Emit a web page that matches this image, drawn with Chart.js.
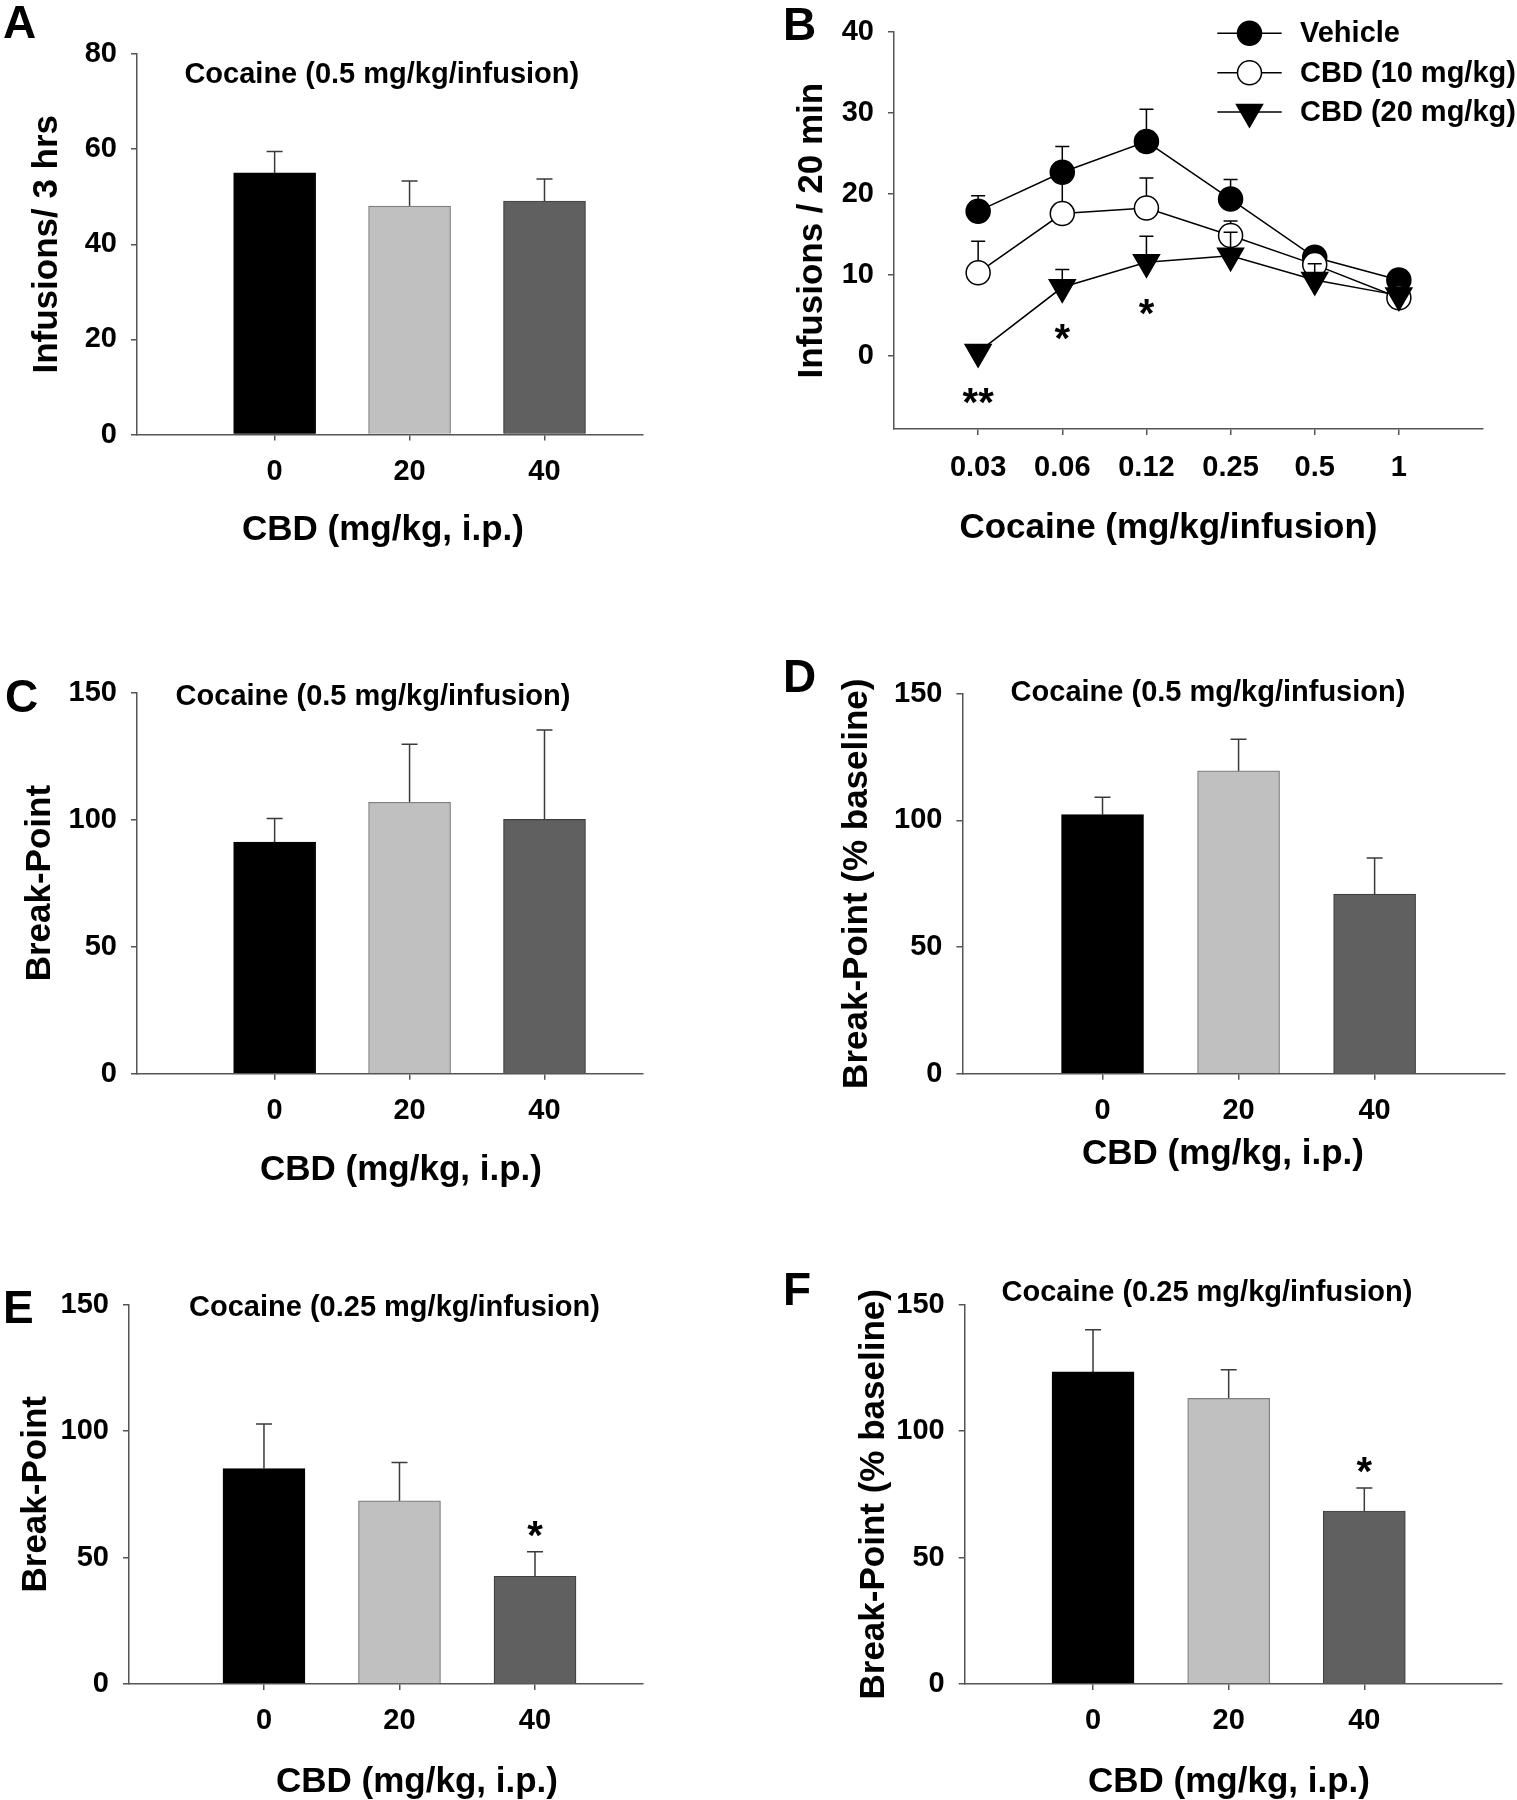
<!DOCTYPE html>
<html><head><meta charset="utf-8">
<script src="https://cdn.jsdelivr.net/npm/chart.js@4.4.1/dist/chart.umd.min.js"></script>
<style>
body{margin:0;background:#fff;}
#fig{position:relative;width:1517px;height:1800px;overflow:hidden;background:#fff;font-family:'Liberation Sans',Arial,sans-serif;font-weight:bold;color:#000;}
#fig canvas{position:absolute;}
.t{position:absolute;white-space:nowrap;line-height:1;}
</style></head><body><div id="fig"></div>
<script>
// ---------------- DATA ----------------
const cbdDoses = ['0', '20', '40'];           // CBD (mg/kg, i.p.)
const barSlots = [0, 1, 2];
const barColors = ['#000000', '#c0c0c0', '#606060'];
const barBorders = ['#000000', '#7f7f7f', '#3f3f3f'];

// Panel A: infusions / 3 hrs, cocaine 0.5 mg/kg/infusion
const aMeans = [55.0, 48.0, 49.1];
const aSem   = [4.5, 5.3, 4.6];
const aTicks = [0, 20, 40, 60, 80];

// Panel B: dose-response, infusions / 20 min
const cocaineDoses = ['0.03', '0.06', '0.12', '0.25', '0.5', '1'];
const doseSlots = [1, 2, 3, 4, 5, 6];
const vehicleMeans = [17.9, 22.7, 26.5, 19.4, 12.2, 9.4];
const vehicleSem   = [1.9, 3.2, 4.0, 2.4, 0.8, 0.8];
const cbd10Means   = [10.3, 17.6, 18.3, 14.9, 11.3, 7.2];
const cbd10Sem     = [3.9, 3.9, 3.7, 1.8, 0.9, 1.2];
const cbd20Means   = [0.5, 8.5, 11.6, 12.4, 9.4, 7.5];
const cbd20Sem     = [0, 2.2, 3.2, 2.9, 2.0, 1.0];
const cbd20Sig     = ['**', '*', '*', '', '', ''];
const bTicks = [0, 10, 20, 30, 40];

// Panel C: break-point, cocaine 0.5
const cMeans = [91.2, 106.8, 100.1];
const cSem   = [9.2, 22.8, 35.1];
// Panel D: break-point (% baseline), cocaine 0.5
const dMeans = [102.3, 119.5, 70.9];
const dSem   = [6.8, 12.5, 14.2];
// Panel E: break-point, cocaine 0.25
const eMeans = [85.2, 72.4, 42.6];
const eSem   = [17.6, 15.2, 9.7];
const eSig   = ['', '', '*'];
// Panel F: break-point (% baseline), cocaine 0.25
const fMeans = [123.4, 112.9, 68.4];
const fSem   = [16.7, 11.3, 9.1];
const fSig   = ['', '', '*'];
const bpTicks = [0, 50, 100, 150];

// ---------------- STYLE ----------------
const FONT = "'Liberation Sans', Arial, sans-serif";
const AXIS = '#555555';
Chart.defaults.font.family = FONT;
Chart.defaults.font.weight = 'bold';
Chart.defaults.color = '#000';
const fig = document.getElementById('fig');

const errorBars = {
  id: 'errorBars',
  beforeDatasetDraw(chart, args, opts) {
    const ds = chart.data.datasets[args.index];
    if (!ds.sem) return;
    const ys = chart.scales.y, ctx = chart.ctx;
    ctx.save();
    ctx.strokeStyle = opts.color || '#333';
    ctx.lineWidth = opts.width || 1.5;
    const half = (opts.cap || 16) / 2;
    args.meta.data.forEach((el, i) => {
      const s = ds.sem[i];
      if (!s) return;
      const v = ds.data[i].y;
      const yTop = ys.getPixelForValue(v + s), y0 = ys.getPixelForValue(v);
      ctx.beginPath();
      ctx.moveTo(el.x, y0); ctx.lineTo(el.x, yTop);
      ctx.moveTo(el.x - half, yTop); ctx.lineTo(el.x + half, yTop);
      ctx.stroke();
    });
    ctx.restore();
  }
};

const sigMarks = {
  id: 'sigMarks',
  afterDatasetsDraw(chart, args, opts) {
    const ctx = chart.ctx, ys = chart.scales.y;
    chart.data.datasets.forEach((ds, di) => {
      if (!ds.sig) return;
      const meta = chart.getDatasetMeta(di);
      meta.data.forEach((el, i) => {
        const mark = ds.sig[i];
        if (!mark) return;
        const v = ds.data[i].y;
        const cy = opts.mode === 'above'
          ? ys.getPixelForValue(v + (ds.sem[i] || 0)) - opts.offset
          : ys.getPixelForValue(v) + opts.offset;
        ctx.save();
        ctx.font = 'bold ' + opts.size + 'px ' + FONT;
        ctx.fillStyle = '#000'; ctx.textAlign = 'center'; ctx.textBaseline = 'alphabetic';
        ctx.fillText(mark, el.x, cy + 0.56 * opts.size);
        ctx.restore();
      });
    });
  }
};

const insetLegend = {
  id: 'insetLegend',
  afterDraw(chart, args, opts) {
    if (!opts || !opts.display) return;
    const ctx = chart.ctx;
    chart.data.datasets.forEach((ds, i) => {
      const y = opts.top + i * opts.rowGap;
      const cx = opts.left + opts.lineLength / 2;
      ctx.save();
      ctx.strokeStyle = ds.borderColor; ctx.lineWidth = ds.borderWidth;
      ctx.beginPath(); ctx.moveTo(opts.left, y); ctx.lineTo(opts.left + opts.lineLength, y); ctx.stroke();
      ctx.fillStyle = ds.pointBackgroundColor; ctx.strokeStyle = ds.pointBorderColor;
      ctx.lineWidth = ds.pointBorderWidth;
      Chart.helpers.drawPoint(ctx, {pointStyle: ds.pointStyle, radius: ds.pointRadius,
        rotation: ds.pointRotation || 0, borderWidth: ds.pointBorderWidth}, cx, y);
      ctx.font = 'bold ' + opts.fontSize + 'px ' + FONT;
      ctx.fillStyle = '#000'; ctx.textAlign = 'left'; ctx.textBaseline = 'middle';
      ctx.fillText(ds.label, opts.textLeft, y + 1);
      ctx.restore();
    });
  }
};

function addCanvas(box) {
  const c = document.createElement('canvas');
  c.width = box.W; c.height = box.H;
  c.style.left = box.L + 'px'; c.style.top = box.T + 'px';
  c.style.width = box.W + 'px'; c.style.height = box.H + 'px';
  fig.appendChild(c);
  return c;
}

function addText(txt, cx, cy, size, anchor) {
  const d = document.createElement('div');
  d.className = 't';
  d.textContent = txt;
  d.style.fontSize = size + 'px';
  d.style.top = (cy - size / 2) + 'px';
  if (anchor === 'left') { d.style.left = cx + 'px'; }
  else { d.style.left = cx + 'px'; d.style.transform = 'translateX(-50%)'; }
  fig.appendChild(d);
}

function axisCommon() {
  return {
    grid: {drawOnChartArea: false, drawTicks: true, tickLength: 6, color: AXIS, lineWidth: 1.5, offset: false},
    border: {display: true, color: AXIS, width: 1.5}
  };
}

function scalesFor(box, area, s) {
  return {
    x: Object.assign({
      type: 'linear', min: s.xMin, max: s.xMax, offset: false,
      afterBuildTicks: sc => { sc.ticks = s.xVals.map(v => ({value: v})); },
      afterFit: sc => { sc.height = box.T + box.H - area.bottom; },
      ticks: {font: {size: 29, weight: 'bold'}, color: '#000', padding: s.xPad || 14,
              maxRotation: 0, autoSkip: false, callback: (v, i) => s.xLabels[i]}
    }, axisCommon()),
    y: Object.assign({
      min: s.yMin, max: s.yMax,
      afterBuildTicks: sc => { sc.ticks = s.yVals.map(v => ({value: v})); },
      afterFit: sc => { sc.width = area.left - box.L; },
      ticks: {font: {size: 29, weight: 'bold'}, color: '#000', padding: 14, callback: v => String(v)},
      title: {display: true, text: s.yTitle, color: '#000', font: {size: 35, weight: 'bold'},
              padding: {top: s.yTitlePad, bottom: 0}}
    }, axisCommon())
  };
}

function layoutFor(box, area) {
  return {padding: {left: 0, top: area.top - box.T, right: box.L + box.W - area.right, bottom: 0}};
}

function barPanel(p) {
  const cv = addCanvas(p.box);
  new Chart(cv, {
    type: 'bar',
    data: {datasets: [{
      data: barSlots.map((x, i) => ({x: x, y: p.means[i]})),
      sem: p.sem, sig: p.sig,
      backgroundColor: barColors, borderColor: barBorders, borderWidth: 1.2,
      barThickness: 82
    }]},
    options: {
      responsive: false, animation: false, devicePixelRatio: 1,
      layout: layoutFor(p.box, p.area),
      scales: scalesFor(p.box, p.area, {xMin: p.xMin, xMax: p.xMax, xVals: barSlots, xLabels: cbdDoses,
        yMin: p.yVals[0], yMax: p.yVals[p.yVals.length - 1], yVals: p.yVals,
        yTitle: p.yTitle, yTitlePad: p.yTitlePad}),
      plugins: {legend: {display: false}, tooltip: {enabled: false},
        errorBars: {color: '#3a3a3a', width: 1.5, cap: 16},
        sigMarks: {mode: 'above', offset: 25, size: 40}}
    },
    plugins: [errorBars, sigMarks]
  });
}

// ---------------- PANELS ----------------
barPanel({box: {L: 0, T: 0, W: 700, H: 600}, area: {left: 137, top: 54, right: 643, bottom: 434.5},
  means: aMeans, sem: aSem, yVals: aTicks, yTitle: 'Infusions/ 3 hrs', yTitlePad: 26.6, xMin: -1.02, xMax: 2.73});

barPanel({box: {L: 0, T: 620, W: 700, H: 600}, area: {left: 137, top: 692.5, right: 643, bottom: 1073.8},
  means: cMeans, sem: cSem, yVals: bpTicks, yTitle: 'Break-Point', yTitlePad: 19, xMin: -1.02, xMax: 2.73});

barPanel({box: {L: 760, T: 620, W: 757, H: 600}, area: {left: 962.4, top: 693.6, right: 1504.4, bottom: 1073.8},
  means: dMeans, sem: dSem, yVals: bpTicks, yTitle: 'Break-Point (% baseline)', yTitlePad: 76.6, xMin: -1.03, xMax: 2.954});

barPanel({box: {L: 0, T: 1240, W: 700, H: 560}, area: {left: 129, top: 1304.6, right: 643, bottom: 1684},
  means: eMeans, sem: eSem, sig: eSig, yVals: bpTicks, yTitle: 'Break-Point', yTitlePad: 15.8, xMin: -0.996, xMax: 2.797});

barPanel({box: {L: 760, T: 1240, W: 757, H: 560}, area: {left: 964.7, top: 1304.6, right: 1502, bottom: 1684},
  means: fMeans, sem: fSem, sig: fSig, yVals: bpTicks, yTitle: 'Break-Point (% baseline)', yTitlePad: 93, xMin: -0.946, xMax: 3.015});

// Panel B (line chart)
(function () {
  const box = {L: 760, T: 0, W: 757, H: 600};
  const area = {left: 894, top: 32.2, right: 1483, bottom: 429};
  const mk = (vals) => doseSlots.map((x, i) => ({x: x, y: vals[i]}));
  const common = {borderColor: '#000', borderWidth: 1.5, pointBorderColor: '#000', pointBorderWidth: 1.5,
                  showLine: true, tension: 0};
  const cv = addCanvas(box);
  new Chart(cv, {
    type: 'line',
    data: {datasets: [
      Object.assign({label: 'Vehicle', data: mk(vehicleMeans), sem: vehicleSem, order: 3,
        pointStyle: 'circle', pointRadius: 12, pointBackgroundColor: '#000'}, common),
      Object.assign({label: 'CBD (10 mg/kg)', data: mk(cbd10Means), sem: cbd10Sem, order: 2,
        pointStyle: 'circle', pointRadius: 12, pointBackgroundColor: '#fff'}, common),
      Object.assign({label: 'CBD (20 mg/kg)', data: mk(cbd20Means), sem: cbd20Sem, sig: cbd20Sig, order: 1,
        pointStyle: 'triangle', pointRotation: 180, pointRadius: 15, pointBackgroundColor: '#000'}, common)
    ]},
    options: {
      responsive: false, animation: false, devicePixelRatio: 1,
      layout: layoutFor(box, area),
      scales: scalesFor(box, area, {xMin: 0, xMax: 7, xVals: doseSlots, xLabels: cocaineDoses, xPad: 16,
        yMin: -9, yMax: 40, yVals: bTicks, yTitle: 'Infusions / 20 min', yTitlePad: 31}),
      plugins: {legend: {display: false}, tooltip: {enabled: false},
        errorBars: {color: '#000', width: 1.5, cap: 14},
        sigMarks: {mode: 'below', offset: 42, size: 40},
        insetLegend: {display: true, left: 457.3, lineLength: 64.4, top: 33.3, rowGap: 39.4,
                      textLeft: 540, fontSize: 29}}
    },
    plugins: [errorBars, sigMarks, insetLegend]
  });
})();

// ---------------- TEXT (letters, inner titles, x-axis titles) ----------------
const letters = [['A', 3, 22], ['B', 783, 24], ['C', 5, 696], ['D', 783, 676], ['E', 3, 1307], ['F', 783, 1289]];
letters.forEach(l => addText(l[0], l[1], l[2], 46, 'left'));

addText('Cocaine (0.5 mg/kg/infusion)', 381.8, 73, 29);
addText('Cocaine (0.5 mg/kg/infusion)', 373, 695, 29);
addText('Cocaine (0.5 mg/kg/infusion)', 1208, 691, 29);
addText('Cocaine (0.25 mg/kg/infusion)', 394.5, 1306, 29);
addText('Cocaine (0.25 mg/kg/infusion)', 1207, 1291, 29);

addText('CBD (mg/kg, i.p.)', 383, 527, 35);
addText('Cocaine (mg/kg/infusion)', 1168.5, 525, 35);
addText('CBD (mg/kg, i.p.)', 401, 1167, 35);
addText('CBD (mg/kg, i.p.)', 1223, 1151, 35);
addText('CBD (mg/kg, i.p.)', 417, 1779, 35);
addText('CBD (mg/kg, i.p.)', 1229, 1779, 35);
</script></body></html>
